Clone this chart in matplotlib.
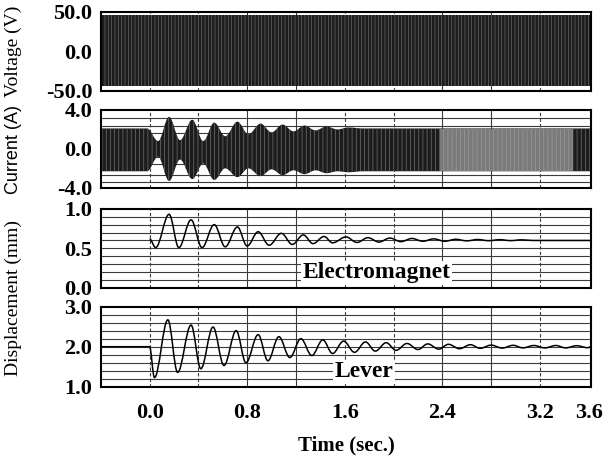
import matplotlib
matplotlib.use('Agg')
import matplotlib.pyplot as plt
from matplotlib.path import Path
from matplotlib.patches import PathPatch

plt.rcParams['font.family'] = ['Liberation Serif', 'DejaVu Serif']
plt.rcParams['hatch.linewidth'] = 0.5

# time axis
x_ticks = [0.0, 0.8, 1.6, 2.4, 3.2, 3.6]
x_tick_labels = ['0.0', '0.8', '1.6', '2.4', '3.2', '3.6']
grid_dashed = [0.0, 0.4, 1.6, 2.0, 3.2]
grid_solid = [0.8, 1.2, 2.4, 2.8]

# voltage: dense carrier, drawn as its envelope
volt_t = [-0.4, 3.62]
volt_hi = [46.0, 46.0]
volt_lo = [-44.0, -44.0]

# current envelope (bursts after t = 0)
cur_t = [-0.4, -0.02, 0.07, 0.16, 0.25, 0.35, 0.44, 0.53, 0.62, 0.72, 0.81,
         0.91, 1.00, 1.09, 1.18, 1.27, 1.36, 1.45, 1.54, 1.63, 1.75, 3.62]
cur_hi = [2.1, 2.1, 0.8, 3.3, 0.9, 3.0, 0.8, 2.7, 1.3, 2.8, 1.5,
          2.6, 1.7, 2.5, 1.8, 2.4, 1.9, 2.3, 2.0, 2.2, 2.1, 2.1]
cur_lo = [-2.3, -2.3, -0.8, -3.3, -1.1, -3.1, -1.5, -3.2, -2.0, -2.9, -2.0,
          -2.8, -2.1, -2.7, -2.2, -2.6, -2.2, -2.5, -2.3, -2.4, -2.3, -2.3]
cur_gray_t = [2.38, 3.47]
cur_gray_hi = [2.0, 2.0]
cur_gray_lo = [-2.3, -2.3]

# electromagnet displacement: start point then alternating troughs / peaks
em_t = [0.00, 0.05, 0.16, 0.24, 0.34, 0.43, 0.53, 0.62, 0.72, 0.80, 0.89,
        0.98, 1.08, 1.17, 1.26, 1.34, 1.43, 1.50, 1.61, 1.70, 1.79, 1.88,
        1.97, 2.06, 2.15, 2.24, 2.33, 2.42, 2.51, 2.60, 2.69, 2.78, 2.87,
        2.96, 3.05, 3.14, 3.62]
em_v = [0.62, 0.51, 0.93, 0.51, 0.86, 0.51, 0.80, 0.52, 0.77, 0.53, 0.71,
        0.54, 0.69, 0.55, 0.67, 0.56, 0.65, 0.57, 0.645, 0.575, 0.635, 0.58,
        0.63, 0.585, 0.625, 0.59, 0.62, 0.59, 0.615, 0.595, 0.612, 0.597, 0.61,
        0.598, 0.608, 0.60, 0.60]

# lever displacement: flat, then alternating troughs / peaks
lev_t = [-0.4, 0.00, 0.04, 0.15, 0.23, 0.34, 0.42, 0.52, 0.61, 0.71, 0.79,
         0.89, 0.97, 1.06, 1.15, 1.24, 1.33, 1.42, 1.50, 1.59, 1.68, 1.77,
         1.85, 1.94, 2.02, 2.11, 2.20, 2.28, 2.37, 2.45, 2.54, 2.63, 2.71,
         2.80, 2.89, 2.98, 3.06, 3.15, 3.24, 3.33, 3.41, 3.50, 3.59, 3.62]
lev_v = [2.0, 2.0, 1.23, 2.67, 1.36, 2.54, 1.45, 2.49, 1.53, 2.40, 1.60,
         2.30, 1.65, 2.25, 1.73, 2.20, 1.78, 2.17, 1.83, 2.14, 1.86, 2.12,
         1.89, 2.10, 1.91, 2.08, 1.93, 2.07, 1.94, 2.06, 1.95, 2.05, 1.96,
         2.04, 1.965, 2.035, 1.97, 2.03, 1.97, 2.03, 1.97, 2.025, 1.975, 2.0]


def bezier_segments(ts, vs, k=0.36):
    # cubic bezier between extrema, flat tangent at each one
    verts, codes = [], []
    for i in range(1, len(ts)):
        dt = ts[i] - ts[i - 1]
        verts += [(ts[i - 1] + k * dt, vs[i - 1]), (ts[i] - k * dt, vs[i]), (ts[i], vs[i])]
        codes += [Path.CURVE4] * 3
    return verts, codes


def smooth_path(ts, vs):
    verts, codes = bezier_segments(ts, vs)
    return Path([(ts[0], vs[0])] + verts, [Path.MOVETO] + codes)


def smooth_band(ts, lo, hi):
    up_v, up_c = bezier_segments(ts, hi)
    dn_v, dn_c = bezier_segments(ts[::-1], lo[::-1])
    verts = [(ts[0], hi[0])] + up_v + [(ts[-1], lo[-1])] + dn_v + [(ts[0], hi[0])]
    codes = [Path.MOVETO] + up_c + [Path.LINETO] + dn_c + [Path.CLOSEPOLY]
    return Path(verts, codes)


fig = plt.figure(figsize=(6.07, 4.66), dpi=100)
left, width = 0.166, 0.808
boxes = [(0.805, 0.170), (0.597, 0.167), (0.382, 0.170), (0.170, 0.172)]
axs = [fig.add_axes([left, b, width, h]) for b, h in boxes]

ylims = [(-50, 50), (-4, 4), (0, 1), (1, 3)]
yticks = [[-50, 0, 50], [-4, 0, 4], [0, 0.5, 1], [1, 2, 3]]
ytlabels = [['-50.0', '0.0', '50.0'], ['-4.0', '0.0', '4.0'],
            ['0.0', '0.5', '1.0'], ['1.0', '2.0', '3.0']]
hlines = [[-40, -25, 25, 40],
          [-3.4, -2.7, -1.6, -0.8, 0.8, 1.6, 2.4, 3.2],
          [0.1, 0.2, 0.3, 0.4, 0.5, 0.6, 0.7, 0.8, 0.9],
          [1.2, 1.4, 1.6, 1.8, 2.0, 2.2, 2.4, 2.6, 2.8]]

for ax, yl, yt, ytl, hl in zip(axs, ylims, yticks, ytlabels, hlines):
    ax.set_xlim(-0.4, 3.62)
    ax.set_ylim(*yl)
    for y in hl:
        ax.axhline(y, color='#3a3a3a', lw=0.8, zorder=1)
    for x in grid_dashed:
        ax.axvline(x, color='#3a3a3a', lw=0.8, ls=(0, (3, 2)), zorder=1)
    for x in grid_solid:
        ax.axvline(x, color='#3a3a3a', lw=0.8, zorder=1)
    ax.set_yticks(yt)
    ax.set_yticklabels(ytl, fontsize=16, fontweight='bold')
    ax.tick_params(length=0, pad=6)
    for s in ax.spines.values():
        s.set_linewidth(1.5)
    if ax is not axs[-1]:
        ax.set_xticks([])

# voltage
axs[0].fill_between(volt_t, volt_lo, volt_hi, facecolor='#1c1c1c',
                    edgecolor='#6a6a6a', hatch='|||||', lw=0, zorder=2)

# current
axs[1].add_patch(PathPatch(smooth_band(cur_t, cur_lo, cur_hi), facecolor='#1c1c1c',
                           edgecolor='#707070', hatch='||||', lw=0, zorder=2))
axs[1].fill_between(cur_gray_t, cur_gray_lo, cur_gray_hi, facecolor='#7a7a7a',
                    edgecolor='#9a9a9a', hatch='||||', lw=0, zorder=3)

# displacements
axs[2].add_patch(PathPatch(smooth_path(em_t, em_v), fill=False, lw=1.1,
                           edgecolor='black', zorder=3))
axs[3].add_patch(PathPatch(smooth_path(lev_t, lev_v), fill=False, lw=1.1,
                           edgecolor='black', zorder=3))

axs[2].text(1.86, 0.19, 'Electromagnet', fontsize=17, fontweight='bold',
            ha='center', va='center', zorder=4,
            bbox=dict(facecolor='white', edgecolor='none', pad=1))
axs[3].text(1.76, 1.38, 'Lever', fontsize=17, fontweight='bold',
            ha='center', va='center', zorder=4,
            bbox=dict(facecolor='white', edgecolor='none', pad=1))

axs[3].set_xticks(x_ticks)
axs[3].set_xticklabels(x_tick_labels, fontsize=16, fontweight='bold')
axs[3].tick_params(axis='x', pad=12)

fig.text(0.5 * (left * 2 + width), 0.045, 'Time (sec.)', fontsize=15,
         fontweight='bold', ha='center', va='center')
fig.text(0.022, 0.89, 'Voltage (V)', fontsize=14, rotation=90,
         ha='center', va='center')
fig.text(0.022, 0.68, 'Current (A)', fontsize=13, rotation=90,
         ha='center', va='center', family=['Liberation Sans', 'DejaVu Sans'])
fig.text(0.022, 0.36, 'Displacement (mm)', fontsize=14, rotation=90,
         ha='center', va='center')

fig.savefig('out.png', dpi=100)
